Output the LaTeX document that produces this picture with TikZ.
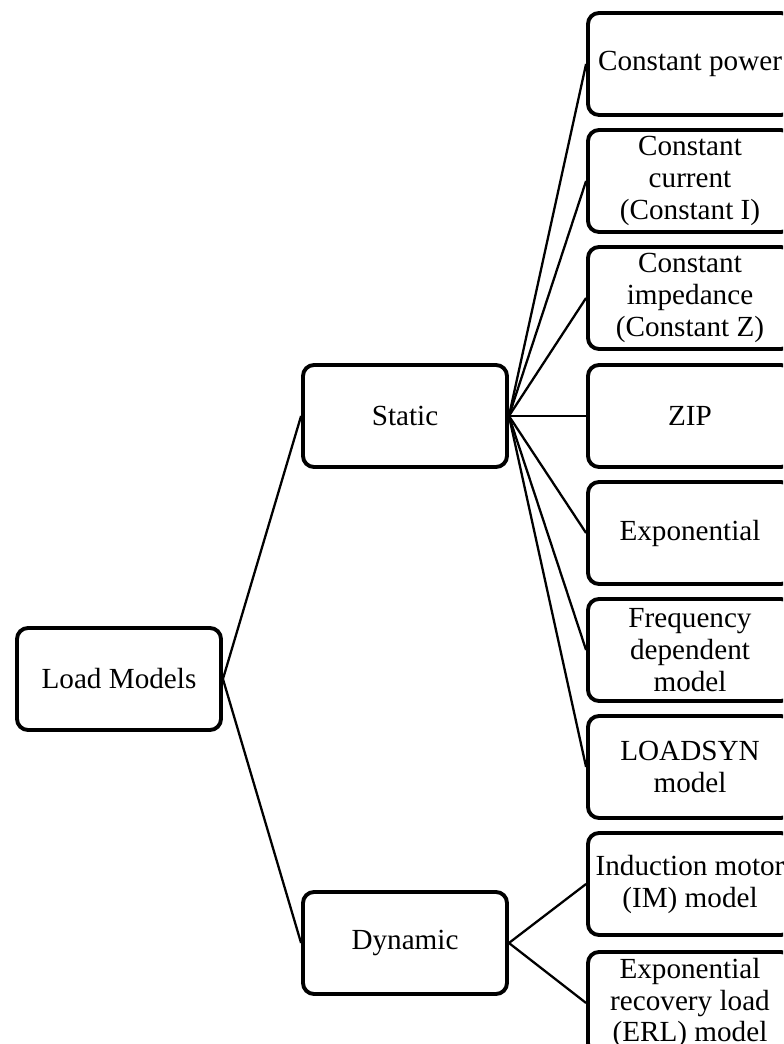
\documentclass[tikz,border=0pt]{standalone}
\usepackage{fontspec}
\setmainfont{Liberation Serif}

\begin{document}
\begin{tikzpicture}[
    box/.style={draw, line width=2.2pt, rounded corners=0.22cm, minimum width=4.08cm, minimum height=2.04cm, align=center, inner sep=1pt, font=\fontsize{16.6}{18.2}\selectfont},
    link/.style={line width=1.3pt}]

    \path[use as bounding box, clip] (0,0) rectangle (15.66,20.88);

    \node(load)[box] at (2.38,7.3) {Load Models};
    \node(stat)[box] at (8.1,12.56) {Static};
    \node(dyn)[box] at (8.1,2.02) {Dynamic};

    \node(s1)[box] at (13.8,19.6) {Constant power};
    \node(s2)[box] at (13.8,17.26) {Constant\\current\\(Constant I)};
    \node(s3)[box] at (13.8,14.92) {Constant\\impedance\\(Constant Z)};
    \node(s4)[box] at (13.8,12.56) {ZIP};
    \node(s5)[box] at (13.8,10.22) {Exponential};
    \node(s6)[box] at (13.8,7.88) {Frequency\\dependent\\model};
    \node(s7)[box] at (13.8,5.54) {LOADSYN\\model};

    \node(d1)[box] at (13.8,3.2) {Induction motor\\(IM) model};
    \node(d2)[box] at (13.8,0.82) {Exponential\\recovery load\\(ERL) model};

    \draw[link] (load.east) -- (stat.west);
    \draw[link] (load.east) -- (dyn.west);

    \foreach \y in {s1, s2, s3, s4, s5, s6, s7}
        {
            \draw[link] (stat.east) -- (\y.west);
        }

    \foreach \y in {d1, d2}
        {
            \draw[link] (dyn.east) -- (\y.west);
        }
\end{tikzpicture}
\end{document}
